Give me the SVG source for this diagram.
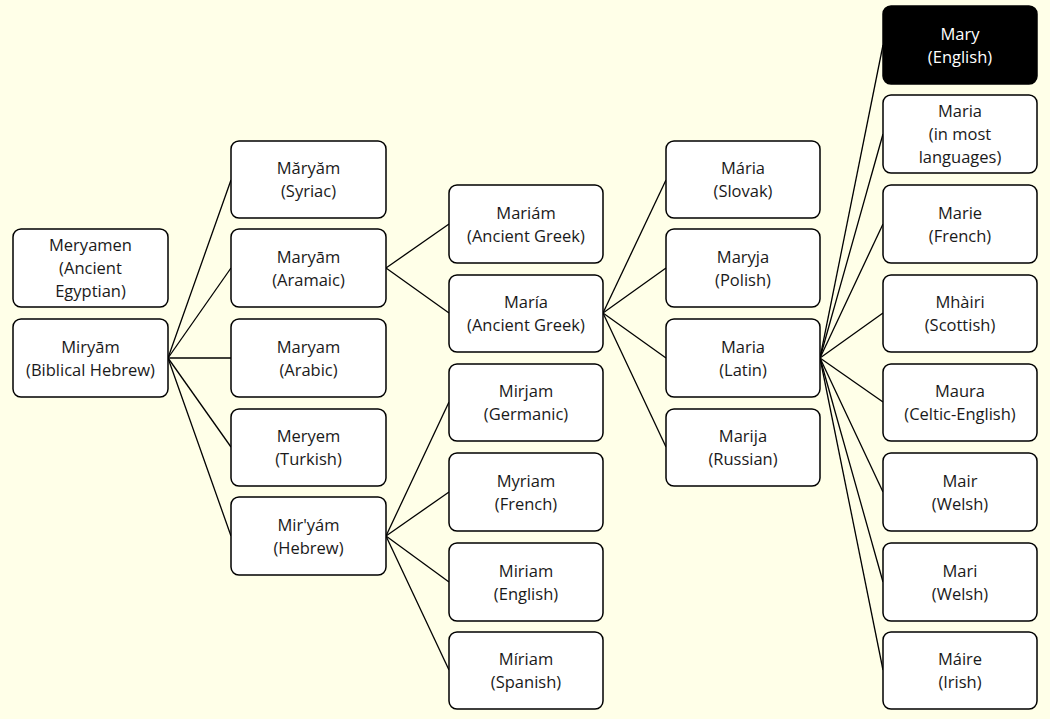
<svg xmlns="http://www.w3.org/2000/svg" width="1050" height="719" viewBox="0 0 1050 719">
<style>
.bg{fill:#FFFFE8}
.box{fill:#FFFFFF;stroke:#000000;stroke-width:1.5}
.dark{fill:#000000;stroke:#000000;stroke-width:1.5}
text{font-family:"Open Sans","Liberation Sans",Arial,sans-serif;font-size:16.5px;fill:#1a1a1a;text-anchor:middle}
.wt{fill:#FFFFFF}
.conn line{stroke:#000000;stroke-width:1.3}
</style>
<rect class="bg" x="0" y="0" width="1050" height="719"/>
<g id="connectors" class="conn">
<line x1="168" y1="358" x2="231" y2="180"/>
<line x1="168" y1="358" x2="231" y2="268"/>
<line x1="168" y1="358" x2="231" y2="358"/>
<line x1="168" y1="358" x2="231" y2="447"/>
<line x1="168" y1="358" x2="231" y2="536"/>
<line x1="386" y1="268" x2="449" y2="224"/>
<line x1="386" y1="268" x2="449" y2="313"/>
<line x1="386" y1="536" x2="449" y2="402"/>
<line x1="386" y1="536" x2="449" y2="492"/>
<line x1="386" y1="536" x2="449" y2="582"/>
<line x1="386" y1="536" x2="449" y2="670"/>
<line x1="603" y1="313" x2="666" y2="180"/>
<line x1="603" y1="313" x2="666" y2="268"/>
<line x1="603" y1="313" x2="666" y2="358"/>
<line x1="603" y1="313" x2="666" y2="447"/>
<line x1="820" y1="358" x2="883" y2="45"/>
<line x1="820" y1="358" x2="883" y2="134"/>
<line x1="820" y1="358" x2="883" y2="224"/>
<line x1="820" y1="358" x2="883" y2="313"/>
<line x1="820" y1="358" x2="883" y2="402"/>
<line x1="820" y1="358" x2="883" y2="492"/>
<line x1="820" y1="358" x2="883" y2="582"/>
<line x1="820" y1="358" x2="883" y2="670"/>
</g>
<g id="meryamen"><rect class="box" x="13" y="229" width="155" height="78" rx="8"/><text x="90.5" y="251">Meryamen</text><text x="90.5" y="274">(Ancient</text><text x="90.5" y="297">Egyptian)</text></g>
<g id="miryam-biblical"><rect class="box" x="13" y="319" width="155" height="78" rx="8"/><text x="90.5" y="352.5">Miryām</text><text x="90.5" y="375.5">(Biblical Hebrew)</text></g>
<g id="maryam-syriac"><rect class="box" x="231" y="141" width="155" height="77" rx="8"/><text x="308.5" y="174">Măryăm</text><text x="308.5" y="197">(Syriac)</text></g>
<g id="maryam-aramaic"><rect class="box" x="231" y="229" width="155" height="78" rx="8"/><text x="308.5" y="262.5">Maryām</text><text x="308.5" y="285.5">(Aramaic)</text></g>
<g id="maryam-arabic"><rect class="box" x="231" y="319" width="155" height="78" rx="8"/><text x="308.5" y="352.5">Maryam</text><text x="308.5" y="375.5">(Arabic)</text></g>
<g id="meryem-turkish"><rect class="box" x="231" y="409" width="155" height="77" rx="8"/><text x="308.5" y="441.5">Meryem</text><text x="308.5" y="464.5">(Turkish)</text></g>
<g id="miryam-hebrew"><rect class="box" x="231" y="497" width="155" height="78" rx="8"/><text x="308.5" y="530.5">Mir'yám</text><text x="308.5" y="553.5">(Hebrew)</text></g>
<g id="mariam-greek"><rect class="box" x="449" y="185" width="154" height="78" rx="8"/><text x="526" y="218.5">Mariám</text><text x="526" y="241.5">(Ancient Greek)</text></g>
<g id="maria-greek"><rect class="box" x="449" y="275" width="154" height="77" rx="8"/><text x="526" y="307.5">María</text><text x="526" y="330.5">(Ancient Greek)</text></g>
<g id="mirjam-germanic"><rect class="box" x="449" y="364" width="154" height="77" rx="8"/><text x="526" y="396.5">Mirjam</text><text x="526" y="419.5">(Germanic)</text></g>
<g id="myriam-french"><rect class="box" x="449" y="453" width="154" height="78" rx="8"/><text x="526" y="486.5">Myriam</text><text x="526" y="509.5">(French)</text></g>
<g id="miriam-english"><rect class="box" x="449" y="543" width="154" height="78" rx="8"/><text x="526" y="576.5">Miriam</text><text x="526" y="599.5">(English)</text></g>
<g id="miriam-spanish"><rect class="box" x="449" y="632" width="154" height="77" rx="8"/><text x="526" y="664.5">Míriam</text><text x="526" y="687.5">(Spanish)</text></g>
<g id="maria-slovak"><rect class="box" x="666" y="141" width="154" height="77" rx="8"/><text x="743" y="174">Mária</text><text x="743" y="197">(Slovak)</text></g>
<g id="maryja-polish"><rect class="box" x="666" y="229" width="154" height="78" rx="8"/><text x="743" y="262.5">Maryja</text><text x="743" y="285.5">(Polish)</text></g>
<g id="maria-latin"><rect class="box" x="666" y="319" width="154" height="78" rx="8"/><text x="743" y="352.5">Maria</text><text x="743" y="375.5">(Latin)</text></g>
<g id="marija-russian"><rect class="box" x="666" y="409" width="154" height="77" rx="8"/><text x="743" y="441.5">Marija</text><text x="743" y="464.5">(Russian)</text></g>
<g id="mary-english"><rect class="dark" x="883" y="6" width="154" height="78" rx="8"/><text class="wt" x="960" y="39.5">Mary</text><text class="wt" x="960" y="62.5">(English)</text></g>
<g id="maria-most"><rect class="box" x="883" y="95" width="154" height="78" rx="8"/><text x="960" y="117">Maria</text><text x="960" y="140">(in most</text><text x="960" y="163">languages)</text></g>
<g id="marie-french"><rect class="box" x="883" y="185" width="154" height="78" rx="8"/><text x="960" y="218.5">Marie</text><text x="960" y="241.5">(French)</text></g>
<g id="mhairi-scottish"><rect class="box" x="883" y="275" width="154" height="77" rx="8"/><text x="960" y="307.5">Mhàiri</text><text x="960" y="330.5">(Scottish)</text></g>
<g id="maura-celtic"><rect class="box" x="883" y="364" width="154" height="77" rx="8"/><text x="960" y="396.5">Maura</text><text x="960" y="419.5">(Celtic-English)</text></g>
<g id="mair-welsh"><rect class="box" x="883" y="453" width="154" height="78" rx="8"/><text x="960" y="486.5">Mair</text><text x="960" y="509.5">(Welsh)</text></g>
<g id="mari-welsh"><rect class="box" x="883" y="543" width="154" height="78" rx="8"/><text x="960" y="576.5">Mari</text><text x="960" y="599.5">(Welsh)</text></g>
<g id="maire-irish"><rect class="box" x="883" y="632" width="154" height="77" rx="8"/><text x="960" y="664.5">Máire</text><text x="960" y="687.5">(Irish)</text></g>
</svg>
